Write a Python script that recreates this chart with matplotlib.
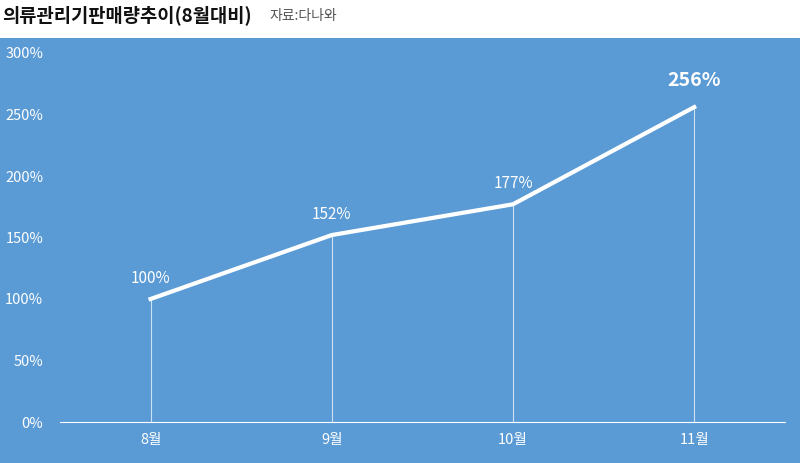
import matplotlib
matplotlib.use("Agg")
import matplotlib.pyplot as plt
import numpy as np

plt.rcParams['font.family'] = ['Noto Sans CJK KR', 'DejaVu Sans']

months = ['8월', '9월', '10월', '11월']
values = [100, 152, 177, 256]
yticks = [0, 50, 100, 150, 200, 250, 300]
title = '의류관리기판매량추이(8월대비)'
source = '자료:다나와'

bg = '#5b9bd5'
fig = plt.figure(figsize=(8, 4.63), dpi=100)
fig.patch.set_facecolor('white')
bax = fig.add_axes([0, 0, 1, 1 - 38/463], zorder=-1)
bax.set_facecolor(bg)
bax.set_axis_off()
bax.add_patch(plt.Rectangle((0, 0), 1, 1, transform=bax.transAxes, facecolor=bg, edgecolor='none'))
fig.text(0.003, 1 - 15/463, title, fontsize=13.5, fontweight='bold', va='center', ha='left',
         color='#111')
fig.text(0.337, 1 - 16/463, source, fontsize=10, va='center', ha='left', color='#555')

ax = fig.add_axes([0.075, 1 - 422/463, 0.906, (422 - 53)/463], zorder=1)
ax.set_facecolor('none')
x = np.arange(len(months))
ax.plot(x, values, color='white', lw=3, zorder=3)
for xi, v in zip(x, values):
    ax.vlines(xi, 0, v, color='white', lw=0.8, alpha=0.7, zorder=2)
for i, (xi, v) in enumerate(zip(x, values)):
    big = i == len(values) - 1
    ax.text(xi, v + (14 if big else 10), f'{v}%', color='white', ha='center', va='bottom',
            fontsize=14 if big else 11, fontweight='bold' if big else 'normal')
ax.set_xlim(-0.5, 3.5)
ax.set_ylim(0, 300)
ax.set_yticks(yticks)
ax.set_yticklabels([f'{t}%' for t in yticks], color='white', fontsize=10.5)
ax.set_xticks(x)
ax.set_xticklabels(months, color='white', fontsize=10.5)
ax.tick_params(length=0, pad=8)
ax.tick_params(axis='y', pad=12)
for s in ['top', 'right', 'left']:
    ax.spines[s].set_visible(False)
ax.spines['bottom'].set_color('white')
ax.spines['bottom'].set_linewidth(0.8)
fig.savefig('out.png', dpi=100)
